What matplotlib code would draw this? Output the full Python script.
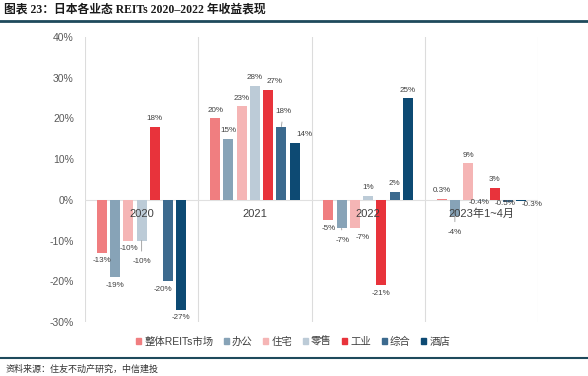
import matplotlib
matplotlib.use("Agg")
import matplotlib.pyplot as plt
from matplotlib.patches import Patch
import numpy as np

plt.rcParams['font.family'] = ['Liberation Sans', 'Noto Sans CJK SC', 'DejaVu Sans']

# data
periods = ['2020', '2021', '2022', '2023年1~4月']
sectors = ['整体REITs市场', '办公', '住宅', '零售', '工业', '综合', '酒店']
returns = [
    [-13, -19, -10, -10, 18, -20, -27],
    [20, 15, 23, 28, 27, 18, 14],
    [-5, -7, -7, 1, -21, 2, 25],
    [0.3, -4, 9, -0.4, 3, -0.5, -0.3],
]
colors = ['#F07E80', '#87A3B7', '#F5B5B5', '#BCCBD7', '#E8333B', '#3C6A8E', '#0D4A73']

# label nudges in pixels (dx, dy), dy>0 means further away from the bar end; True = leader line
nudges = {
    (0, 2): (1, 0, False), (0, 3): (0, 13, True), (0, 5): (-5, 0, False),
    (1, 4): (6, 0, False), (1, 5): (2, 7, True), (1, 6): (10, 0, False),
    (2, 1): (1, 4, True), (2, 2): (8, 1, False),
    (3, 1): (0, 8, True), (3, 3): (-2, -7, False), (3, 5): (-3, -6, False),
    (3, 6): (11, -5, False),
}

fig = plt.figure(figsize=(5.88, 3.76), dpi=100)
ax = fig.add_axes([85 / 588, 1 - 322 / 376, 453 / 588, 285 / 376])

x = np.arange(len(periods))
step = 0.117
width = 0.088
px = 72 / 100  # points per pixel

for j, name in enumerate(sectors):
    vals = [r[j] for r in returns]
    xs = x + (j - 3) * step
    ax.bar(xs, vals, width, color=colors[j], zorder=3)
    for i, v in enumerate(vals):
        lab = f'{v:.1f}%' if abs(v) < 1 else f'{v:.0f}%'
        dx, dy, lead = nudges.get((i, j), (0, 0, False))
        sign = 1 if v > 0 else -1
        off = (8 + dy) * sign
        ap = None
        if lead:
            ap = dict(arrowstyle='-', color='#9a9a9a', lw=0.6, shrinkA=3, shrinkB=0)
        ax.annotate(lab, xy=(xs[i], v), xytext=(dx * px, off * px),
                    textcoords='offset points', ha='center', va='center',
                    fontsize=5.8, color='#404040', arrowprops=ap, zorder=4)

# period labels just below the zero line
for i, p in enumerate(periods):
    ax.annotate(p, xy=(i, 0), xytext=(0, -14 * px), textcoords='offset points',
                ha='center', va='center', fontsize=8, color='#404040', zorder=5)

ax.set_xlim(-0.5, 3.5)
ax.set_ylim(-30, 40)
ax.set_yticks(range(-30, 41, 10))
ax.set_yticklabels([f'{t}%' for t in range(-30, 41, 10)], fontsize=7.5, color='#595959')
ax.set_xticks([])
ax.tick_params(axis='y', length=0, pad=8)
for s in ax.spines.values():
    s.set_visible(False)
for b in np.arange(-0.5, 4.0, 1):
    ax.axvline(b, color='#dcdcdc', lw=0.8, zorder=1)
ax.axhline(0, color='#e0e0e0', lw=0.8, zorder=2)

handles = [Patch(color=c, label=s) for c, s in zip(colors, sectors)]
fig.legend(handles=handles, loc='center', bbox_to_anchor=(293 / 588, 1 - 342 / 376),
           ncol=7, frameon=False, fontsize=7.5, handlelength=0.5, handleheight=0.5,
           handletextpad=0.3, columnspacing=1.0, labelcolor='#404040')

# title, rules, source
fig.text(4 / 588, 1 - 10 / 376, '图表 23：日本各业态 REITs 2020–2022 年收益表现',
         fontsize=8.5, fontweight='bold', va='center', ha='left', color='#1a1a1a',
         family=['Liberation Serif', 'Noto Sans CJK SC'])
fig.add_artist(plt.Line2D([0, 1], [1 - 21 / 376] * 2, color='#1E4A5C', lw=2))
fig.add_artist(plt.Line2D([0, 1], [1 - 358 / 376] * 2, color='#1E4A5C', lw=1.5))
fig.text(6 / 588, 1 - 369 / 376, '资料来源：住友不动产研究，中信建投', fontsize=6.5,
         va='center', ha='left', color='#333333', style='italic')

fig.savefig('out.png', dpi=100)
